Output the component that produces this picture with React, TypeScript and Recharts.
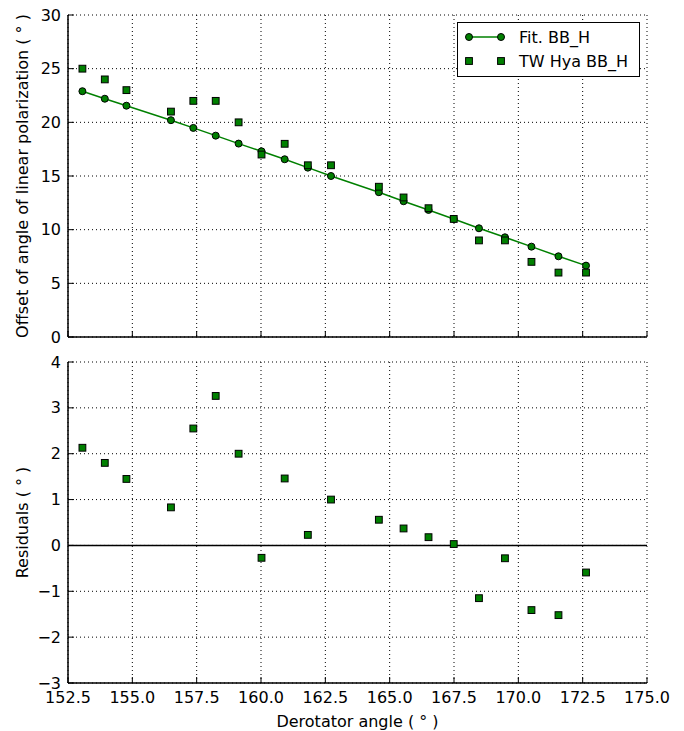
import React from "react";
import {
  ComposedChart,
  Line,
  XAxis,
  YAxis,
  CartesianGrid,
  ReferenceLine,
  Legend,
} from "recharts";

// derotator angles (deg)
const angles = [
  153.06, 153.93, 154.77, 156.5, 157.37, 158.24, 159.13, 160.02, 160.92, 161.82,
  162.72, 164.58, 165.54, 166.51, 167.49, 168.47, 169.48, 170.51, 171.56, 172.63,
];
// linear fit
const fitValues = [
  22.9, 22.2, 21.55, 20.2, 19.48, 18.76, 18.02, 17.3, 16.56, 15.78, 15.0, 13.49,
  12.65, 11.84, 11.0, 10.13, 9.29, 8.42, 7.52, 6.65,
];
// measured offsets TW Hya
const obsValues = [25, 24, 23, 21, 22, 22, 20, 17, 18, 16, 16, 14, 13, 12, 11, 9, 9, 7, 6, 6];
// residuals
const residuals = [
  2.13, 1.8, 1.45, 0.83, 2.55, 3.26, 2.0, -0.27, 1.46, 0.23, 1.0, 0.56, 0.37, 0.18,
  0.03, -1.15, -0.28, -1.41, -1.52, -0.59,
];

const xTicks = [152.5, 155, 157.5, 160, 162.5, 165, 167.5, 170, 172.5, 175];
const topYTicks = [0, 5, 10, 15, 20, 25, 30];
const bottomYTicks = [-3, -2, -1, 0, 1, 2, 3, 4];

const topData = angles.map((x, i) => ({ x, fit: fitValues[i], obs: obsValues[i] }));
const bottomData = angles.map((x, i) => ({ x, resid: residuals[i] }));

const FONT = "'DejaVu Sans', sans-serif";
const GREEN = "#008000";
const TICK_LEN = 6;

const fmtNum = (v: number) => (v < 0 ? "\u2212" + Math.abs(v) : String(v));

const LeftTick = ({ x, y, payload }: any) => (
  <g>
    <line x1={x} x2={x + TICK_LEN} y1={y} y2={y} stroke="#000" strokeWidth={1} />
    <text x={x - 7} y={y} textAnchor="end" dominantBaseline="central" fontSize={16} fontFamily={FONT} fill="#000">
      {fmtNum(payload.value)}
    </text>
  </g>
);

const RightTick = ({ x, y }: any) => (
  <line x1={x} x2={x - TICK_LEN} y1={y} y2={y} stroke="#000" strokeWidth={1} />
);

const TopTick = ({ x, y }: any) => (
  <line x1={x} x2={x} y1={y} y2={y + TICK_LEN} stroke="#000" strokeWidth={1} />
);

const BottomTickNoLabel = ({ x, y }: any) => (
  <line x1={x} x2={x} y1={y} y2={y - TICK_LEN} stroke="#000" strokeWidth={1} />
);

const BottomTick = ({ x, y, payload }: any) => (
  <g>
    <line x1={x} x2={x} y1={y} y2={y - TICK_LEN} stroke="#000" strokeWidth={1} />
    <text x={x} y={y + 20} textAnchor="middle" fontSize={16} fontFamily={FONT} fill="#000">
      {payload.value.toFixed(1)}
    </text>
  </g>
);

const yLabel = (text: string) => (props: any) => {
  const vb = props.viewBox;
  const cx = 22;
  const cy = vb.y + vb.height / 2;
  return (
    <text
      x={cx}
      y={cy}
      transform={`rotate(-90 ${cx} ${cy})`}
      textAnchor="middle"
      dominantBaseline="central"
      fontSize={16}
      fontFamily={FONT}
      fill="#000"
    >
      {text}
    </text>
  );
};

const SquareDot = (props: any) => {
  const { cx, cy, index } = props;
  if (cx == null || cy == null) return <g key={index} />;
  return (
    <rect
      key={index}
      x={cx - 3.4}
      y={cy - 3.4}
      width={6.8}
      height={6.8}
      fill={GREEN}
      stroke="#000"
      strokeWidth={1}
    />
  );
};

const LegendBox = () => (
  <div
    style={{
      width: 183,
      height: 55,
      border: "1.5px solid #000",
      background: "#fff",
      boxSizing: "border-box",
    }}
  >
    <svg width={180} height={52}>
      <line x1={11} x2={43} y1={14} y2={14} stroke={GREEN} strokeWidth={1.5} />
      <circle cx={11} cy={14} r={3.5} fill={GREEN} stroke="#000" strokeWidth={1} />
      <circle cx={43} cy={14} r={3.5} fill={GREEN} stroke="#000" strokeWidth={1} />
      <text x={61} y={14} dominantBaseline="central" fontSize={16} fontFamily={FONT} fill="#000">
        Fit. BB_H
      </text>
      <rect x={7.6} y={34.6} width={6.8} height={6.8} fill={GREEN} stroke="#000" strokeWidth={1} />
      <rect x={39.6} y={34.6} width={6.8} height={6.8} fill={GREEN} stroke="#000" strokeWidth={1} />
      <text x={61} y={38} dominantBaseline="central" fontSize={16} fontFamily={FONT} fill="#000">
        TW Hya BB_H
      </text>
    </svg>
  </div>
);

const frame = { stroke: "#000", strokeWidth: 1.5 };

export default function App() {
  return (
    <div
      style={{
        position: "absolute",
        left: 0,
        top: 0,
        width: 684,
        height: 731,
        background: "#fff",
      }}
    >
      <div style={{ position: "absolute", left: 0, top: 0 }}>
        <ComposedChart width={684} height={345} data={topData} margin={{ top: 15, right: 37, bottom: 0, left: 0 }}>
          <CartesianGrid stroke="#000" strokeDasharray="1 3" strokeWidth={1} />
          <XAxis
            dataKey="x"
            type="number"
            domain={[152.5, 175]}
            ticks={xTicks}
            interval={0}
            height={8}
            tickSize={0}
            tickMargin={0}
            tick={<BottomTickNoLabel />}
            axisLine={frame}
            tickLine={false}
          />
          <XAxis
            xAxisId="t"
            orientation="top"
            dataKey="x"
            type="number"
            domain={[152.5, 175]}
            ticks={xTicks}
            interval={0}
            height={0}
            tickSize={0}
            tickMargin={0}
            tick={<TopTick />}
            axisLine={frame}
            tickLine={false}
          />
          <YAxis
            type="number"
            domain={[0, 30]}
            ticks={topYTicks}
            interval={0}
            width={68}
            tickSize={0}
            tickMargin={0}
            tick={<LeftTick />}
            axisLine={frame}
            tickLine={false}
            label={{ content: yLabel("Offset of angle of linear polarization ( \u00b0 )") }}
          />
          <YAxis
            yAxisId="r"
            orientation="right"
            type="number"
            domain={[0, 30]}
            ticks={topYTicks}
            interval={0}
            width={0}
            tickSize={0}
            tickMargin={0}
            tick={<RightTick />}
            axisLine={frame}
            tickLine={false}
          />
          <Line
            dataKey="fit"
            stroke={GREEN}
            strokeWidth={1.5}
            dot={{ r: 3.5, fill: GREEN, stroke: "#000", strokeWidth: 1 }}
            activeDot={false}
            isAnimationActive={false}
          />
          <Line
            dataKey="obs"
            stroke="none"
            dot={SquareDot}
            activeDot={false}
            isAnimationActive={false}
          />
          <Legend
            layout="horizontal"
            verticalAlign="middle"
            align="center"
            wrapperStyle={{ left: 457, top: 22, width: 183 }}
            content={() => <LegendBox />}
          />
        </ComposedChart>
      </div>
      <div style={{ position: "absolute", left: 0, top: 345 }}>
        <ComposedChart width={684} height={386} data={bottomData} margin={{ top: 17, right: 37, bottom: 0, left: 0 }}>
          <CartesianGrid stroke="#000" strokeDasharray="1 3" strokeWidth={1} />
          <XAxis
            dataKey="x"
            type="number"
            domain={[152.5, 175]}
            ticks={xTicks}
            interval={0}
            height={48}
            tickSize={0}
            tickMargin={0}
            tick={<BottomTick />}
            axisLine={frame}
            tickLine={false}
            label={{
              value: "Derotator angle ( \u00b0 )",
              position: "insideBottom",
              offset: 4,
              fontSize: 16,
              fontFamily: FONT,
              fill: "#000",
            }}
          />
          <XAxis
            xAxisId="t"
            orientation="top"
            dataKey="x"
            type="number"
            domain={[152.5, 175]}
            ticks={xTicks}
            interval={0}
            height={0}
            tickSize={0}
            tickMargin={0}
            tick={<TopTick />}
            axisLine={frame}
            tickLine={false}
          />
          <YAxis
            type="number"
            domain={[-3, 4]}
            ticks={bottomYTicks}
            interval={0}
            width={68}
            tickSize={0}
            tickMargin={0}
            tick={<LeftTick />}
            axisLine={frame}
            tickLine={false}
            label={{ content: yLabel("Residuals ( \u00b0 )") }}
          />
          <YAxis
            yAxisId="r"
            orientation="right"
            type="number"
            domain={[-3, 4]}
            ticks={bottomYTicks}
            interval={0}
            width={0}
            tickSize={0}
            tickMargin={0}
            tick={<RightTick />}
            axisLine={frame}
            tickLine={false}
          />
          <ReferenceLine y={0} stroke="#000" strokeWidth={1.5} />
          <Line
            dataKey="resid"
            stroke="none"
            dot={SquareDot}
            activeDot={false}
            isAnimationActive={false}
          />
        </ComposedChart>
      </div>
    </div>
  );
}
